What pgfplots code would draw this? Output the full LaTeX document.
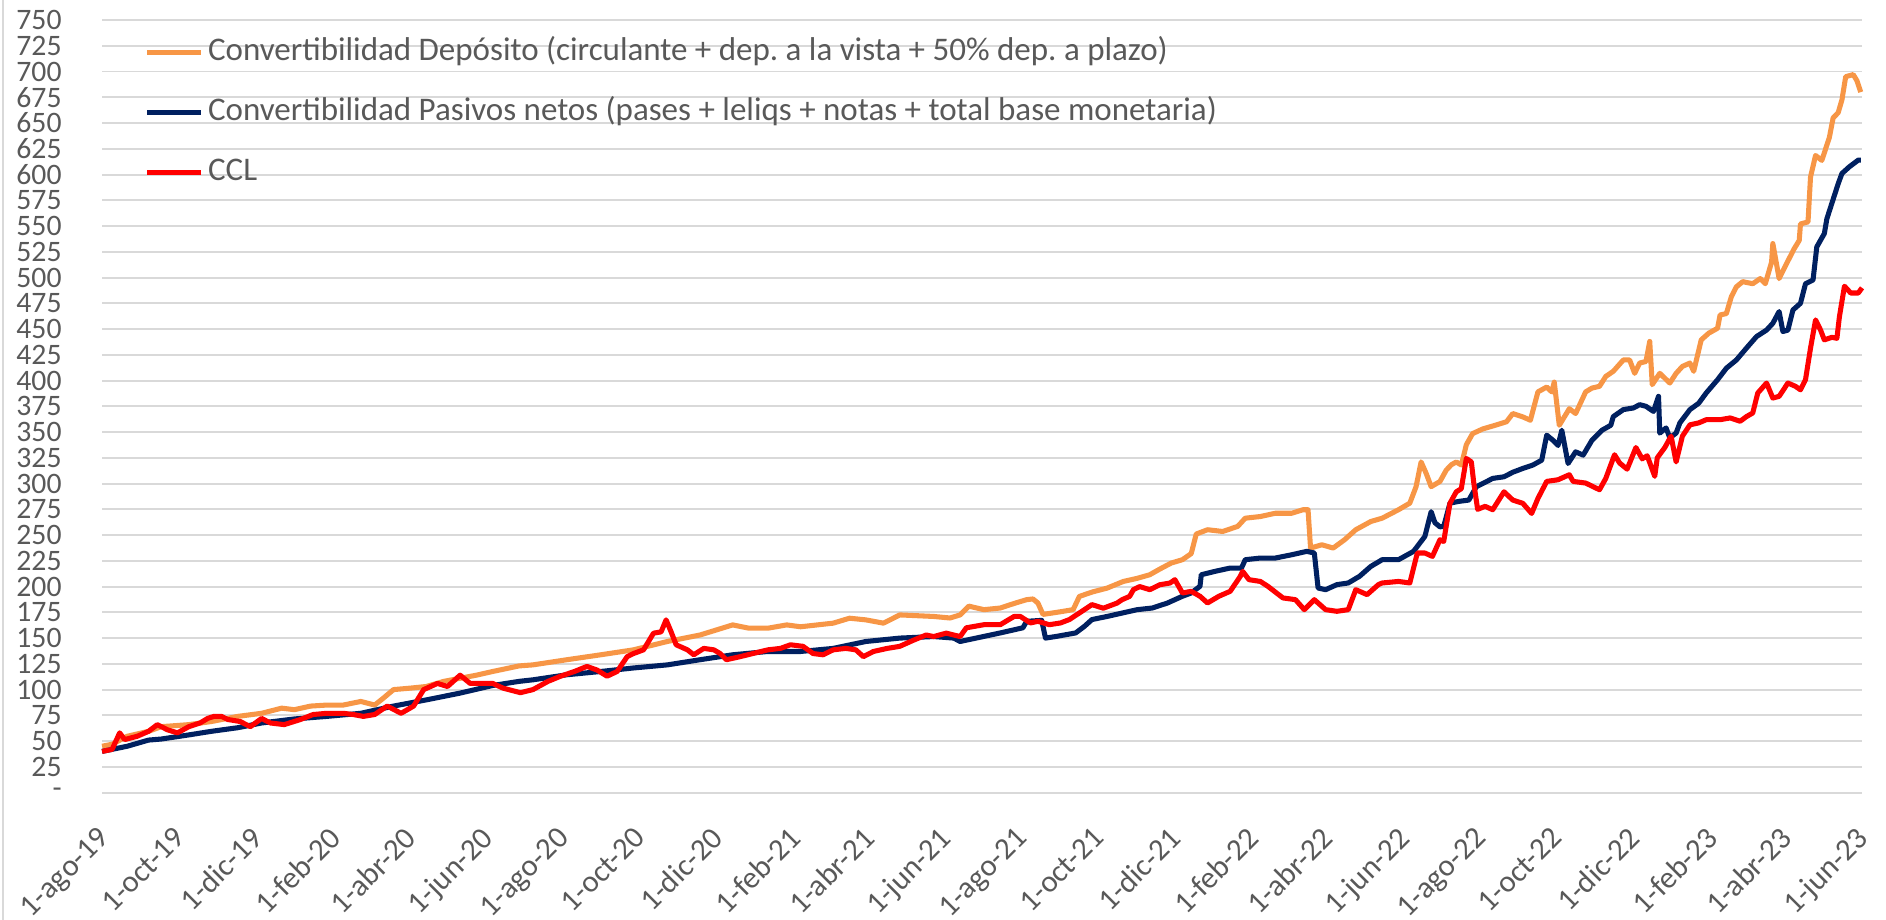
\documentclass[border=0pt]{standalone}
\usepackage{fontspec}
\setmainfont{Carlito}
\usepackage{pgfplots}
\pgfplotsset{compat=1.18}
\definecolor{cOrange}{RGB}{247,150,70}
\definecolor{cNavy}{RGB}{0,32,96}
\definecolor{cRed}{RGB}{255,0,0}
\definecolor{cGrid}{RGB}{217,217,217}
\definecolor{cText}{RGB}{89,89,89}
\frenchspacing
\begin{document}
\begin{tikzpicture}
\begin{axis}[
  scale only axis,
  width=800pt, height=351.2pt,
  xmin=0, xmax=1401, ymin=0, ymax=750,
  axis line style={draw=none},
  major tick length=0pt,
  ymajorgrids,
  grid style={cGrid, line width=0.9pt},
  ytick={0,25,...,750},
  yticklabels={-,25,50,75,100,125,150,175,200,225,250,275,300,325,350,375,400,425,450,475,500,525,550,575,600,625,650,675,700,725,750},
  xtick={0,61,122,184,244,305,366,427,488,550,609,670,731,792,853,915,974,1035,1096,1157,1218,1280,1339,1400},
  xticklabels={1-ago-19,1-oct-19,1-dic-19,1-feb-20,1-abr-20,1-jun-20,1-ago-20,1-oct-20,1-dic-20,1-feb-21,1-abr-21,1-jun-21,1-ago-21,1-oct-21,1-dic-21,1-feb-22,1-abr-22,1-jun-22,1-ago-22,1-oct-22,1-dic-22,1-feb-23,1-abr-23,1-jun-23},
  xticklabel style={xshift=-2.7pt, yshift=-14.7pt, rotate=45, anchor=north east, inner sep=0pt, font=\fontsize{14}{14}\selectfont, text=cText},
  yticklabel style={anchor=east, inner sep=0pt, xshift=-18.2pt, font=\fontsize{13.5}{13.5}\selectfont, text=cText},
  legend style={at={(0.024,0.979)}, anchor=north west, draw=none, fill=none,
    font=\fontsize{15}{15}\selectfont, text=cText, row sep=13.3pt, inner sep=0pt,
    nodes={inner sep=0pt, text height=11pt, text depth=3pt},
    /tikz/every odd column/.append style={column sep=2pt},
    cells={anchor=west}},
  legend image code/.code={\draw[#1] (0pt,0pt) -- (24.5pt,0pt);},
  every axis plot/.append style={line width=2.3pt, line join=round},
  clip=false,
]
\addplot[cOrange] table {
0 45
8 47
20 54.7
37 59.5
47 64
69 66
87 69
108 74
127 77
143 82
153 80.5
166 84
179 85
192 85
206 88.5
217 85
224 91.8
232 100
246 101.5
258 103
272 108
285 111
298 114
311 117.6
332 123
343 124
370 129
397 133.8
423 138.6
450 146.7
476 153
502 162.8
515 159.6
530 159.6
545 162.8
556 161
582 164.5
595 169.3
608 167.7
622 164.5
635 172.5
662 171
675 169.5
683 172.5
690 181
702 177.6
715 179.2
727 184
736 187.3
741 188
745 184
749 173
760 175
773 177.6
778 190.5
789 195
800 198.5
813 205
824 208
834 211.5
842 217
851 222.8
860 226.1
867 232
871 251
880 255.2
892 253.5
904 258.4
910 266.4
922 268
934 271.2
947 271.2
956 274.6
960 274.6
962 237.4
971 240.6
980 237.4
989 245.4
998 255.2
1010 263.2
1019 266.4
1032 274.6
1041 281
1046 297
1050 321
1054 310
1058 297
1065 302
1070 313
1074 318.2
1078 321
1082 318
1084 327.6
1086 337.7
1091 348.5
1099 353
1109 356.6
1118 360
1123 368
1131 364.7
1137 361.5
1143 389
1150 393.7
1154 389
1156 398.5
1160 356.6
1168 372.7
1173 368
1181 389
1186 392.7
1192 394.4
1197 404
1203 409
1211 420
1216 420
1220 407
1224 417
1229 418.5
1232 438
1234 396
1240 407
1248 397.6
1253 407
1258 413.7
1264 417
1267 409
1273 439.5
1279 446
1286 450.8
1288 463.7
1293 465
1297 481.5
1301 491
1306 496
1314 494
1320 499
1324 494
1329 515
1330 533
1335 499
1341 513.7
1347 528
1351 536
1352 552
1358 554
1360 597.6
1364 618.5
1369 613.7
1375 636
1378 655
1382 660
1385 672.5
1388 695
1394 697
1397 691
1400 680
};
\addlegendentry{Convertibilidad Depósito (circulante + dep. a la vista + 50\% dep. a plazo)}
\addplot[cNavy] table {
0 40
20 45
37 51
47 52
69 56
87 59.5
108 63
127 67.6
153 71.5
179 74
206 77
232 84
258 90
285 96.6
311 104
332 108
343 109.5
370 114.4
397 117.6
423 121
450 124
476 129
502 133.8
530 137
556 137
582 140
608 146.7
635 150
662 151.5
678 150
683 146.7
715 155
733 160
736 166.3
748 167.2
751 150
760 151.7
775 155
782 161.4
788 168
800 171
812 174.3
824 177.6
836 179.2
848 184
860 190.6
867 193.8
874 200.3
875 211.5
886 214.8
898 218
907 218
910 226.1
922 227.7
934 227.7
947 230.9
959 234.2
965 232.6
968 198.6
974 197
983 201.9
992 203.5
1001 210
1010 219.6
1019 226.1
1032 226.1
1044 234.2
1053 248.7
1058 272.7
1061 262
1065 258
1068 258.4
1073 281
1080 282.7
1088 284
1094 297
1099 300
1107 305
1116 306.6
1123 311
1131 314.7
1139 318
1146 322.7
1150 347
1155 342
1159 337
1162 351.8
1167 319.5
1173 330.8
1179 327.6
1186 342
1194 351.8
1201 356.6
1203 365
1211 371.8
1219 373.4
1224 376.6
1229 375
1235 370
1239 384.7
1240 349
1245 354
1248 344.4
1253 349
1256 358.9
1264 371.8
1271 378
1277 388
1286 400.8
1293 412
1301 420
1309 431.5
1317 442.7
1325 449
1330 455.6
1335 467
1338 447.6
1342 449
1346 468.5
1352 475
1356 494
1362 497.6
1365 529.8
1371 542.7
1373 557
1382 591
1385 601
1391 607.6
1398 614
1400 614
};
\addlegendentry{Convertibilidad Pasivos netos (pases + leliqs + notas + total base monetaria)}
\addplot[cRed] table {
0 40
8 42
14 58
18 51.5
28 54.7
37 59.5
44 66
52 61
60 58
69 64
78 67.6
84 72
89 74
95 74
100 71
110 69
118 64
127 72
134 67.6
145 66
158 71
168 75.8
179 77
192 77
200 75.8
208 74
217 75.8
227 84
238 77
248 84
256 100
267 106
275 103
285 114
293 106
304 106
311 106
319 101.5
333 97
343 100
355 108
365 113
376 117.6
386 122.5
394 119
402 113
410 117.6
418 132
423 135
431 138.6
439 154.8
445 156
449 167.7
453 156
457 143.5
466 138.6
471 133.8
479 140
487 138.6
492 135
497 129
508 132
518 135
530 138.6
540 140
548 143.5
558 142
566 135
574 133.8
582 138.6
592 140
600 138.6
606 132
614 137
625 140
635 142
646 148
656 153
662 151.5
672 154.8
683 151.5
688 160
702 163
715 163
726 171
731 171
739 164.7
745 166.3
754 163
763 164.7
770 168
778 174.4
788 182.5
797 179
808 184
812 187.3
818 190.5
821 197
826 200
834 197
842 201.8
850 203.4
854 206.7
860 193.8
867 195.4
874 190.6
880 184.1
889 190.6
898 195.4
906 209.8
908 214.7
913 206.7
922 205
928 200.3
940 189
950 187.3
957 177.6
965 187.3
974 177.6
983 176
992 177.6
998 197
1007 192.2
1016 201.9
1019 203.5
1032 205
1041 203.5
1047 232.6
1053 232.6
1059 229.3
1065 245.4
1068 243.8
1073 281
1078 292
1082 295
1086 324.4
1090 321
1092 300
1095 275
1101 277.9
1107 274.6
1116 292
1123 284
1131 280.8
1138 271
1143 285.6
1150 302.1
1159 303.7
1168 308.6
1171 302.1
1181 300.5
1192 294
1197 305
1204 328
1208 320
1214 314
1221 335
1226 324
1230 327
1236 307
1238 325
1244 335
1249 346
1253 321
1258 346
1264 357
1271 358.9
1277 362
1288 362
1296 363.7
1304 360.5
1309 365
1314 368.5
1318 387.9
1325 397.6
1330 383
1335 384.7
1342 397.6
1348 394.4
1352 391
1356 400.8
1360 431.5
1364 458.9
1368 449
1371 439.5
1377 442
1381 441
1383 462
1387 491.6
1392 485
1398 485
1401 490
};
\addlegendentry{CCL}
\end{axis}
\pgfresetboundingbox
\path[use as bounding box] ([xshift=-46.4pt,yshift=-57.9pt]current axis.south west) rectangle ([xshift=10.9pt,yshift=9.1pt]current axis.north east);
\draw[cGrid, line width=1pt] ([xshift=-45.2pt,yshift=-57.9pt]current axis.south west) -- ([xshift=-45.2pt,yshift=9.1pt]current axis.north west);
\end{tikzpicture}
\end{document}
